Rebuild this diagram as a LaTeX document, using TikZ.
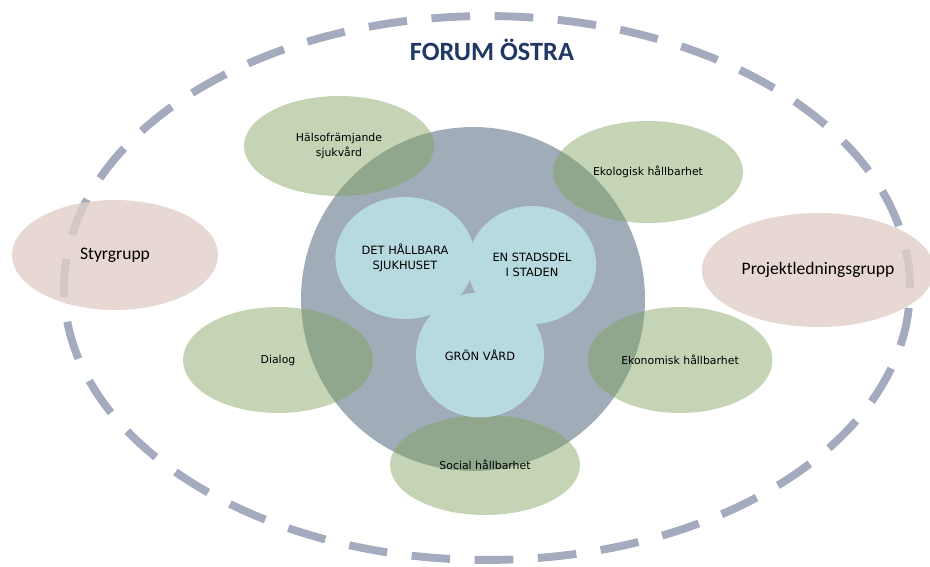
\documentclass[tikz,border=0pt]{standalone}
\usepackage{fontspec}
\setmainfont{DejaVu Sans}
\newfontfamily\calfont{Carlito}
\usetikzlibrary{shapes.geometric}

\definecolor{dashgray}{RGB}{164,171,190}
\definecolor{pinkfill}{RGB}{226,206,200}
\definecolor{bigfill}{RGB}{145,158,173}
\definecolor{greenfill}{RGB}{124,160,89}
\definecolor{bluefill}{RGB}{183,218,224}
\definecolor{titleblue}{RGB}{31,56,100}

\tikzset{
	frame/.style={ellipse, draw=dashgray, line width=4.5pt, dash pattern=on 22pt off 14pt, minimum width=16.92cm, minimum height=10.88cm},
	group/.style={ellipse, fill=pinkfill, fill opacity=0.8, text opacity=1, font=\calfont\fontsize{10}{12}\selectfont},
	theme/.style={ellipse, fill=greenfill, fill opacity=0.45, text opacity=1, minimum width=3.8cm, minimum height=2.04cm, align=center, font=\fontsize{6.2}{8}\selectfont},
	core/.style={ellipse, fill=bluefill, align=center, font=\fontsize{6.5}{8.5}\selectfont}
}

\begin{document}
\begin{tikzpicture}[x=0.02cm, y=-0.02cm]
		\useasboundingbox (0,0) rectangle (930,567);

		\node[frame] (forum) at (487,288) {};

		\node[group, minimum width=4.12cm, minimum height=2.2cm] (styr) at (115,255) {Styrgrupp};
		\node[group, minimum width=4.32cm, minimum height=2.28cm] (proj) at (818,270) {Projektledningsgrupp};

		\node[circle, fill=bigfill, fill opacity=0.85, minimum size=6.88cm] (hub) at (473,299) {};

		\node[theme, minimum height=2cm] (halsa) at (339,146) {Hälsofrämjande\\sjukvård};
		\node[theme] (ekol) at (648,172) {Ekologisk hållbarhet};
		\node[theme, minimum height=2.12cm] (dialog) at (278,360) {Dialog};
		\node[theme, minimum width=3.7cm, minimum height=2.12cm] (ekon) at (680,360) {Ekonomisk hållbarhet};
		\node[theme, minimum height=2cm] (social) at (485,465) {Social hållbarhet};

		\node[core, minimum width=2.68cm, minimum height=2.44cm] (sjukhus) at (405,258) {DET HÅLLBARA\\SJUKHUSET};
		\node[core, minimum width=2.5cm, minimum height=2.36cm] (stadsdel) at (532,265) {EN STADSDEL\\I STADEN};
		\node[core, minimum width=2.56cm, minimum height=2.5cm] (gron) at (480,355) {GRÖN VÅRD};

		\node[font=\calfont\bfseries\fontsize{15}{18}\selectfont, text=titleblue] (title) at (492,50) {FORUM ÖSTRA};
\end{tikzpicture}
\end{document}
